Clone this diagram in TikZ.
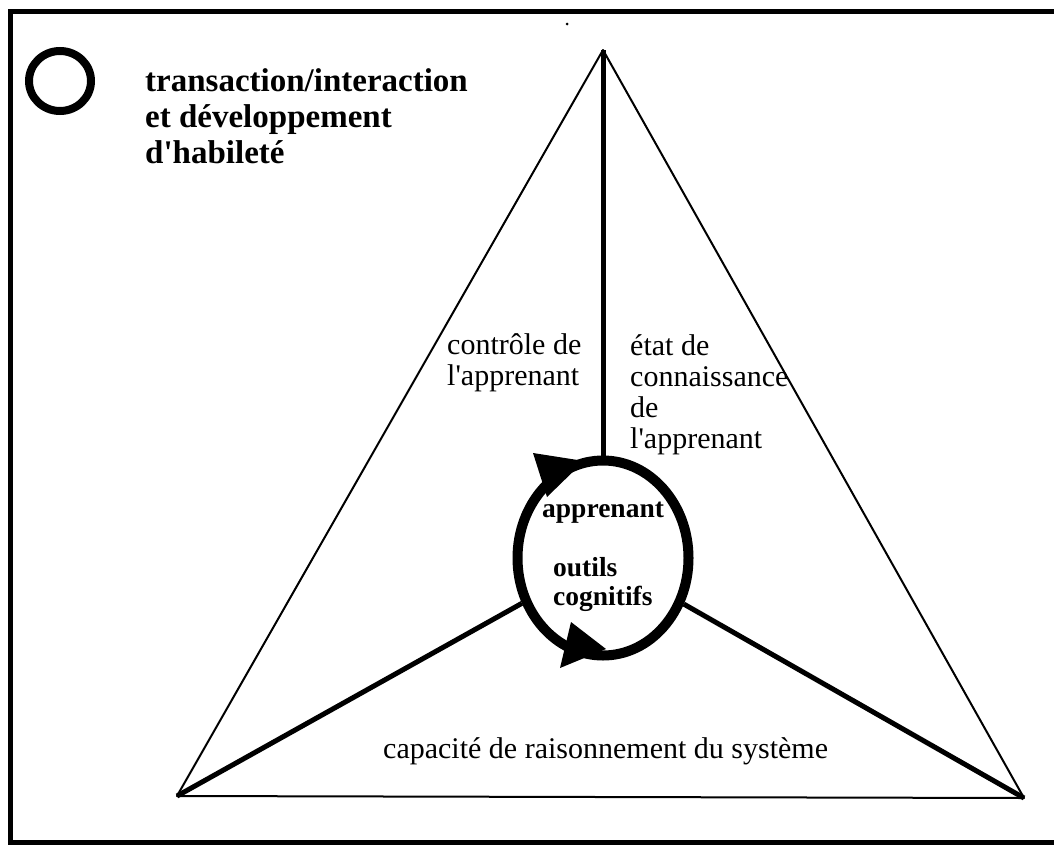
\documentclass[tikz,border=0pt]{standalone}
\usepackage{fontspec}
\setmainfont{Liberation Serif}
\usetikzlibrary{shapes.geometric}
\begin{document}
\begin{tikzpicture}[x=1pt,y=-1pt,
  frameline/.style={line width=5pt, line cap=rect},
  edgeline/.style={line width=2pt, line join=round},
  spoke/.style={line width=5pt},
  ring/.style={draw, ellipse, inner sep=0pt},
  heading/.style={anchor=base west, align=left, inner sep=0pt,
    font=\fontsize{33}{36}\selectfont\bfseries},
  sidelabel/.style={anchor=base west, align=left, inner sep=0pt,
    font=\fontsize{30}{31}\selectfont},
  corelabel/.style={anchor=base west, align=left, inner sep=0pt,
    font=\fontsize{27.5}{29}\selectfont\bfseries},
]
\useasboundingbox (0,0) rectangle (1054,846);
\fill[white] (0,0) rectangle (1054,846);

% open frame: top, left and bottom rules
\draw[frameline] (1054,11) -- (10,11) -- (10,842) -- (1054,842);
\fill (567,24) circle (1.5);

% legend ring and heading (base anchor = baseline of the last line)
\node[ring, line width=8pt, minimum width=62pt, minimum height=60pt] (mark) at (60,81) {};
\node[heading] (head) at (145,163)
  {transaction/interaction\\et développement\\d\textquotesingle habileté};

% triangle corners
\coordinate (A) at (603,50);
\coordinate (L) at (177,796);
\coordinate (R) at (1024,798);

% central cycle
\node[ring, line width=10pt, minimum width=171pt, minimum height=195pt] (core) at (603,558) {};

\draw[edgeline] (A) -- (L) -- (R) -- cycle;
\draw[spoke] (A) -- (core);
\draw[spoke] (L) -- (core);
\draw[spoke] (R) -- (core);

% arrowheads on the cycle
\fill (533,453) -- (584,461) -- (547,497) -- cycle;
\fill (571,622) -- (606,649) -- (560,668) -- cycle;

% labels
\node[corelabel] (learner) at (542,517) {apprenant};
\node[corelabel] (tools) at (553,605) {outils\\cognitifs};
\node[sidelabel] (control) at (447,385) {contrôle de\\l\textquotesingle apprenant};
\node[sidelabel] (state) at (630,448) {état de\\connaissance\\de\\l\textquotesingle apprenant};
\node[sidelabel] (reason) at (383,758) {capacité de raisonnement du système};
\end{tikzpicture}
\end{document}
